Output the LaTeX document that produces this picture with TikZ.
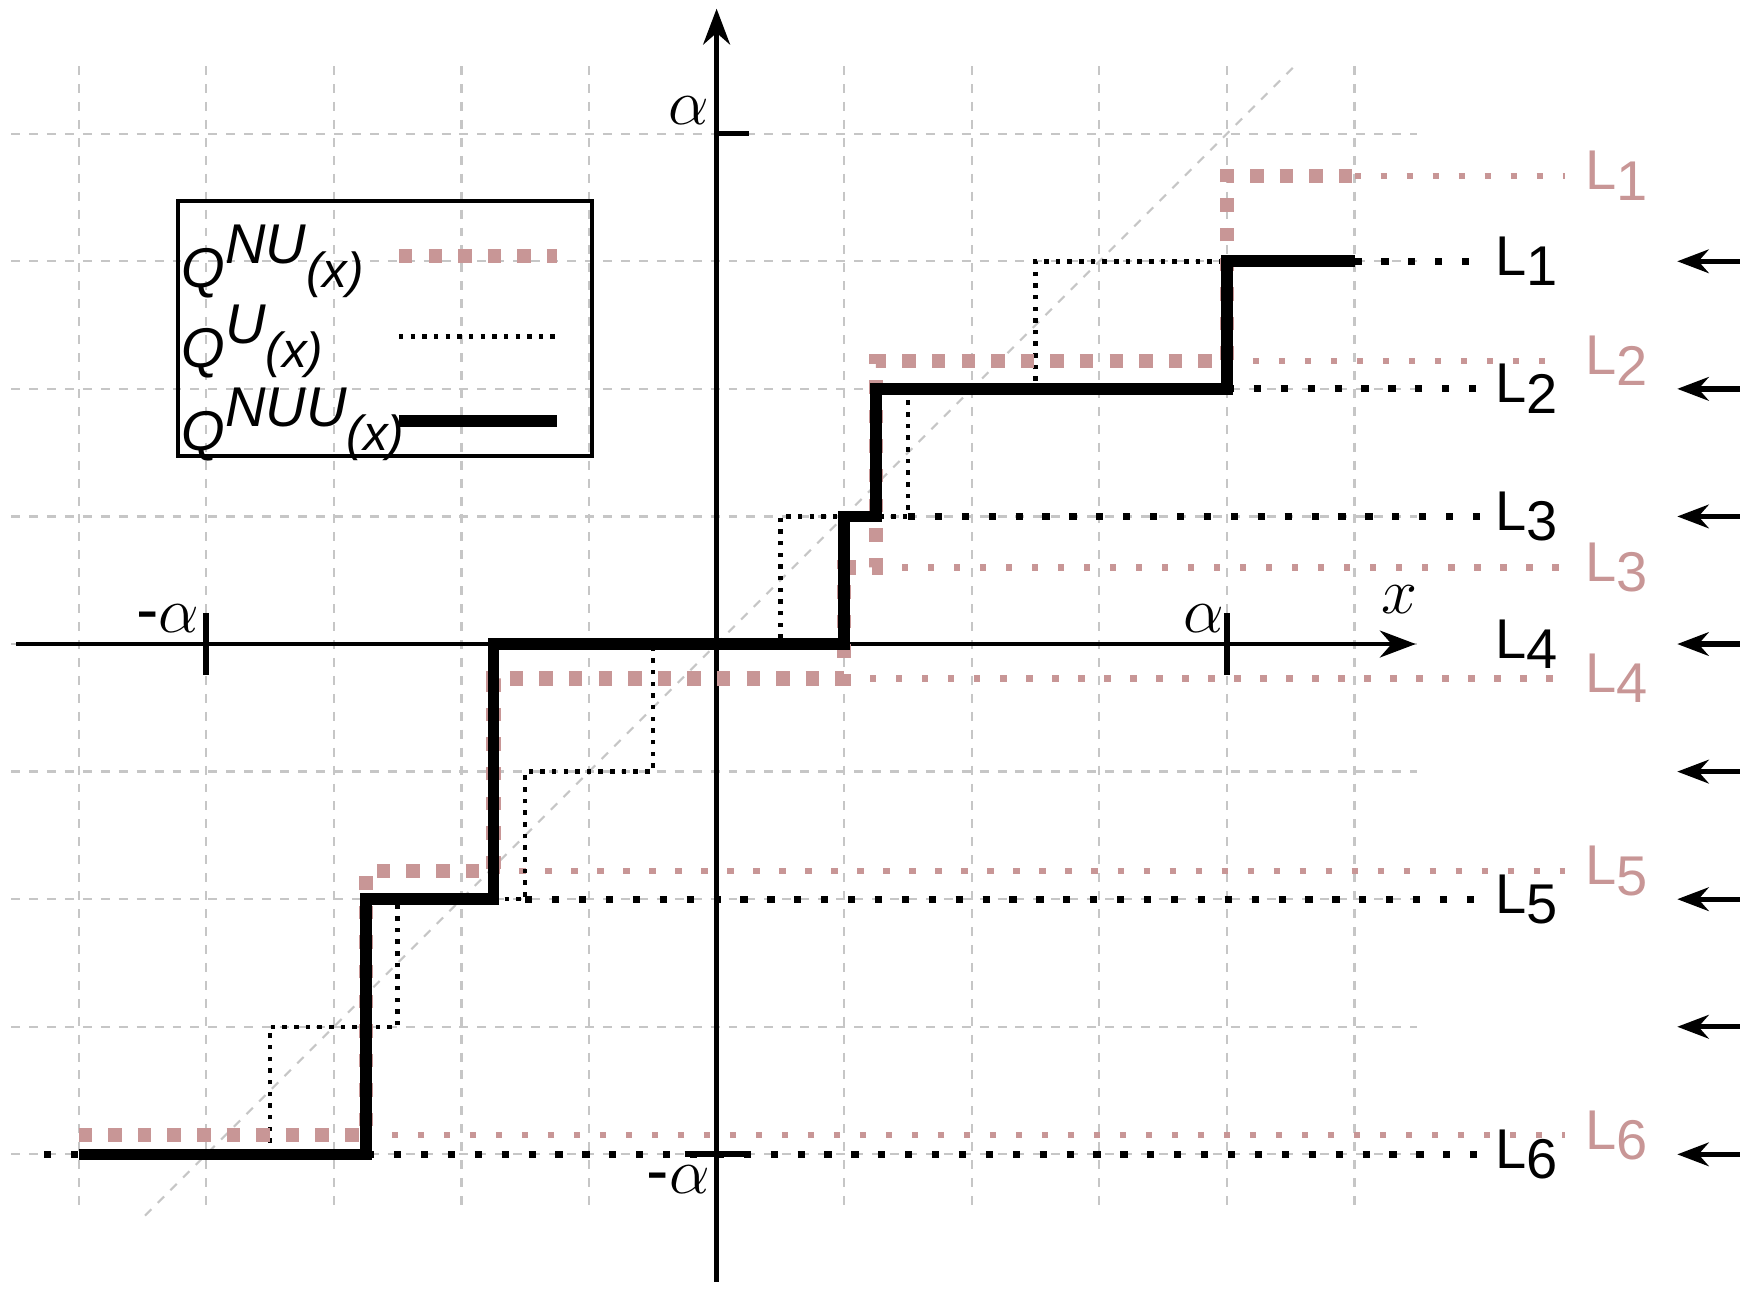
\documentclass[tikz,border=0pt]{standalone}
\usepackage{fontspec}
\setmainfont{Liberation Sans}
\usetikzlibrary{arrows.meta}
\definecolor{pk}{RGB}{200,150,150}
\begin{document}
\begin{tikzpicture}[x=1cm,y=1cm,
  grid/.style={gray!45,line width=0.5pt,dash pattern=on 2pt off 2pt},
  nuu/.style={black,line width=2.6pt},
  nu/.style={pk,line width=3.2pt,dash pattern=on 3pt off 3.6pt},
  qu/.style={black,line width=1pt,dash pattern=on 1pt off 1.6pt},
  blext/.style={black,line width=1.6pt,dash pattern=on 1.6pt off 4.4pt},
  pkext/.style={pk,line width=1.4pt,dash pattern=on 1.4pt off 4.4pt},
  lb/.style={font=\fontsize{12.5}{12.5}\selectfont,anchor=west,inner sep=0pt},
  lg/.style={font=\fontsize{12.5}{12.5}\selectfont\itshape,anchor=west,inner sep=0pt},
  al/.style={font=\fontsize{15}{15}\selectfont}]
\useasboundingbox (-5.617,-5.048) rectangle (8.10,5.048);
% grid
\foreach \x in {-5,...,5} \draw[grid] (\x,4.53) -- (\x,-4.44);
\foreach \y in {-4,...,4} \draw[grid] (-5.53,\y) -- (5.49,\y);
\draw[gray!45,line width=0.5pt,dash pattern=on 2pt off 2pt] (-4.48,-4.48) -- (4.53,4.53);
% axes
\coordinate (xl) at (-5.49,0); \coordinate (xr) at (5.48,0);
\coordinate (yb) at (0,-5.0); \coordinate (yt) at (0,4.98);
\draw[line width=1pt,-{Stealth[length=8pt]}] (xl) -- (xr);
\draw[line width=1pt,-{Stealth[length=8pt]}] (yb) -- (yt);
\draw[line width=1.4pt] (-4,-0.24) -- (-4,0.24);
\draw[line width=1.4pt] (4,-0.24) -- (4,0.24);
\draw[line width=1.2pt] (0,4) -- (0.25,4);
\draw[line width=1.4pt] (-0.25,-4) -- (0.27,-4);
\node[al] (ma) at (-4.3,0.2) {-$\alpha$};
\node[al] (pa) at (3.82,0.2) {$\alpha$};
\node[al] (ya) at (-0.22,4.18) {$\alpha$};
\node[al] (yma) at (-0.3,-4.2) {-$\alpha$};
\node[al] (xlab) at (5.35,0.35) {$x$};
% extensions
\draw[blext] (5,3) -- (6.0,3);
\draw[blext] (4,2) -- (6.0,2);
\draw[blext] (1.5,1) -- (6.0,1);
\draw[blext] (-1.5,-2) -- (6.0,-2);
\draw[blext] (-5.27,-4) -- (6.0,-4);
\draw[pkext] (5,3.67) -- (6.65,3.67);
\draw[pkext] (4,2.22) -- (6.65,2.22);
\draw[pkext] (1.25,0.6) -- (6.65,0.6);
\draw[pkext] (1.0,-0.27) -- (6.65,-0.27);
\draw[pkext] (-1.75,-1.78) -- (6.65,-1.78);
\draw[pkext] (-2.75,-3.85) -- (6.65,-3.85);
% QU
\draw[qu] (-3.5,-4) -- (-3.5,-3) -- (-2.5,-3) -- (-2.5,-2) -- (-1.5,-2) -- (-1.5,-1) -- (-0.5,-1) -- (-0.5,0) -- (0.5,0) -- (0.5,1) -- (1.5,1) -- (1.5,2) -- (2.5,2) -- (2.5,3) -- (4,3);
% QNU
\draw[nu] (-5,-3.85) -- (-2.75,-3.85) -- (-2.75,-1.78) -- (-1.75,-1.78) -- (-1.75,-0.27) -- (1.0,-0.27) -- (1.0,0.6) -- (1.25,0.6) -- (1.25,2.22) -- (4,2.22) -- (4,3.67) -- (5,3.67);
% QNUU
\draw[nuu] (-5,-4) -- (-2.75,-4) -- (-2.75,-2) -- (-1.75,-2) -- (-1.75,0) -- (1,0) -- (1,1) -- (1.25,1) -- (1.25,2) -- (4,2) -- (4,3) -- (5,3);
% labels
\foreach \y/\n in {3/1,2/2,1/3,0/4,-2/5,-4/6}
  \node[lb] (b\n) at (6.1,\y) {L\raisebox{-0.35ex}{\n}};
\foreach \y/\n in {3.67/1,2.22/2,0.6/3,-0.27/4,-1.78/5,-3.85/6}
  \node[lb,text=pk] (p\n) at (6.8,\y) {L\raisebox{-0.35ex}{\n}};
% right arrows
\foreach \y in {3,2,1,0,-1,-2,-3,-4} {
  \coordinate (ra\y) at (8.02,\y); \coordinate (rb\y) at (7.53,\y);
  \draw[line width=1.2pt,-{Stealth[length=7pt]}] (ra\y) -- (rb\y);}
% legend
\node[draw,line width=1pt,minimum width=3.245cm,minimum height=2.0cm,anchor=north west,inner sep=0pt] (leg) at (-4.24,3.49) {};
\node[lg] (l1) at (-4.2,3.0) {Q\raisebox{0.8ex}{NU}{\fontsize{11}{11}\selectfont(x)}};
\node[lg] (l2) at (-4.2,2.37) {Q\raisebox{0.8ex}{U}{\fontsize{11}{11}\selectfont(x)}};
\node[lg] (l3) at (-4.2,1.72) {Q\raisebox{0.8ex}{NUU}{\fontsize{11}{11}\selectfont(x)}};
\draw[nu] (-2.49,3.04) -- (-1.25,3.04);
\draw[qu] (-2.49,2.41) -- (-1.25,2.41);
\draw[nuu] (-2.49,1.75) -- (-1.25,1.75);
\end{tikzpicture}
\end{document}
